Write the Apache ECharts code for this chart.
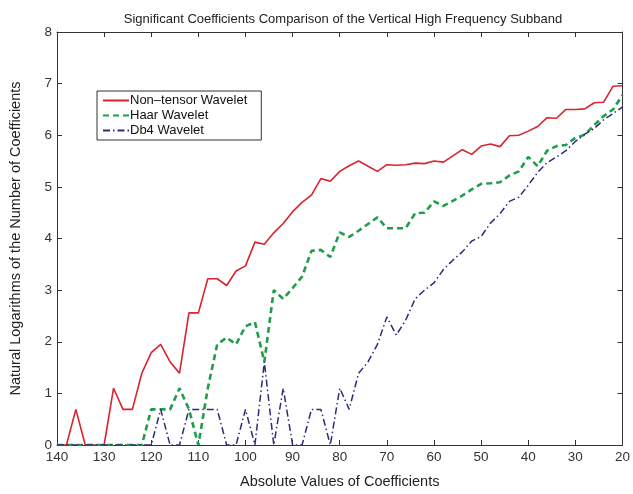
<!DOCTYPE html>
<html>
<head>
<meta charset="utf-8">
<script src="https://cdn.jsdelivr.net/npm/echarts@6/dist/echarts.min.js"></script>
<style>
html,body{margin:0;padding:0;background:#fff;}
#chart{width:633px;height:494px;}
</style>
</head>
<body>
<div id="chart"></div>
<script>
var xValues = [140,138,136,134,132,130,128,126,124,122,120,118,116,114,112,110,108,106,104,102,100,98,96,94,92,90,88,86,84,82,80,78,76,74,72,70,68,66,64,62,60,58,56,54,52,50,48,46,44,42,40,38,36,34,32,30,28,26,24,22,20];
var nonTensor = [0,0,0.69,0,0,0,1.10,0.69,0.69,1.39,1.79,1.95,1.61,1.39,2.56,2.56,3.22,3.22,3.09,3.37,3.47,3.93,3.89,4.11,4.29,4.52,4.70,4.84,5.16,5.11,5.30,5.41,5.50,5.40,5.30,5.43,5.42,5.43,5.46,5.45,5.50,5.48,5.60,5.72,5.63,5.79,5.83,5.78,5.99,6.00,6.08,6.17,6.34,6.33,6.50,6.50,6.51,6.63,6.64,6.95,6.96];
var haar = [0,0,0,0,0,0,0,0,0,0,0.69,0.69,0.69,1.10,0.69,0,1.10,1.95,2.08,1.95,2.30,2.38,1.61,3.00,2.83,3.04,3.26,3.76,3.78,3.64,4.12,4.03,4.15,4.28,4.41,4.20,4.20,4.20,4.49,4.50,4.72,4.63,4.73,4.83,4.95,5.06,5.07,5.09,5.22,5.30,5.58,5.40,5.70,5.79,5.81,5.95,6.01,6.20,6.37,6.50,6.78];
var db4 = [0,0,0,0,0,0,0,0,0,0,0,0.69,0,0,0.69,0.69,0.69,0.69,0,0,0.69,0,1.61,0,1.10,0,0,0.69,0.69,0,1.10,0.69,1.39,1.61,1.95,2.48,2.13,2.42,2.83,3.00,3.14,3.40,3.58,3.74,3.95,4.04,4.30,4.48,4.72,4.80,5.03,5.28,5.47,5.58,5.70,5.88,6.02,6.13,6.30,6.42,6.55];
var seriesNames = ['Non\u2013tensor Wavelet','Haar Wavelet','Db4 Wavelet'];
var titleText = 'Significant Coefficients Comparison of the Vertical High Frequency Subband';
var xName = 'Absolute Values of Coefficients';
var yName = 'Natural Logarithms of the Number of Coefficients';

function pairs(ys){ return xValues.map(function(x,i){ return [x, ys[i]]; }); }

var font = 'Liberation Sans, Arial, Helvetica, sans-serif';
var axisColor = '#333';
var chart = echarts.init(document.getElementById('chart'), null, {renderer:'canvas'});
var baseX = {
  type:'value', min:20, max:140, interval:10, inverse:true,
  axisLine:{show:true, onZero:false, lineStyle:{color:axisColor, width:1}},
  axisTick:{show:true, inside:true, length:5, lineStyle:{color:axisColor}},
  splitLine:{show:false}
};
var baseY = {
  type:'value', min:0, max:8, interval:1,
  axisLine:{show:true, onZero:false, lineStyle:{color:axisColor, width:1}},
  axisTick:{show:true, inside:true, length:5, lineStyle:{color:axisColor}},
  splitLine:{show:false}
};
chart.setOption({
  animation:false,
  backgroundColor:'#fff',
  title:{text:titleText, left:338, top:8, textAlign:'center',
    textStyle:{fontFamily:font, fontSize:13, fontWeight:'normal', color:'#222'}},
  grid:{left:52, right:8, top:32, bottom:47, containLabel:false},
  legend:{
    orient:'vertical', left:97, top:91, itemGap:2, itemWidth:26, itemHeight:10,
    backgroundColor:'#fff', borderColor:'#333', borderWidth:1, padding:[3,14,3,5],
    data:seriesNames,
    itemStyle:{opacity:0},
    textStyle:{fontFamily:font, fontSize:13, color:'#111', padding:[0,0,0,-4]}
  },
  xAxis:[
    Object.assign({}, baseX, {position:'bottom', name:xName, nameLocation:'middle', nameGap:29,
      nameTextStyle:{fontFamily:font, fontSize:14.5, color:'#222'},
      axisLabel:{fontFamily:font, fontSize:13.5, color:'#333', margin:5}}),
    Object.assign({}, baseX, {position:'top', axisLabel:{show:false}})
  ],
  yAxis:[
    Object.assign({}, baseY, {position:'left', name:yName, nameLocation:'middle', nameGap:34,
      nameTextStyle:{fontFamily:font, fontSize:14.5, color:'#222'},
      axisLabel:{fontFamily:font, fontSize:13.5, color:'#333', margin:5}}),
    Object.assign({}, baseY, {position:'right', axisLabel:{show:false}})
  ],
  series:[
    {name:seriesNames[0], type:'line', data:pairs(nonTensor), showSymbol:false, symbol:'none',
      itemStyle:{color:'#d9232e'}, lineStyle:{color:'#d9232e', width:1.6, type:'solid'}},
    {name:seriesNames[1], type:'line', data:pairs(haar), showSymbol:false, symbol:'none',
      itemStyle:{color:'#1f9e4a'}, lineStyle:{color:'#1f9e4a', width:2.6, type:[6,4]}},
    {name:seriesNames[2], type:'line', data:pairs(db4), showSymbol:false, symbol:'none',
      itemStyle:{color:'#2a2d7a'}, lineStyle:{color:'#2a2d7a', width:1.5, type:[7,3,1.5,3]}}
  ]
});
</script>
</body>
</html>
